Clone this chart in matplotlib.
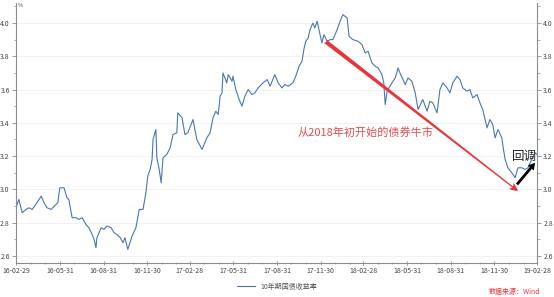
import numpy as np
import pandas as pd
import matplotlib
matplotlib.use('Agg')
import matplotlib.pyplot as plt
import matplotlib.dates as mdates

plt.rcParams['font.family'] = ['Noto Sans CJK SC', 'DejaVu Sans']

# 10年期国债收益率 (%)
dates = ['2016-02-29', '2016-03-06', '2016-03-13', '2016-03-21', '2016-03-27', '2016-04-03',
         '2016-04-13', '2016-04-22', '2016-04-28', '2016-05-04', '2016-05-13', '2016-05-23',
         '2016-05-27', '2016-05-31', '2016-06-09', '2016-06-15', '2016-06-19', '2016-06-26',
         '2016-07-04', '2016-07-10', '2016-07-17', '2016-07-25', '2016-07-31', '2016-08-07',
         '2016-08-11', '2016-08-15', '2016-08-17', '2016-08-26', '2016-09-01', '2016-09-07',
         '2016-09-16', '2016-09-22', '2016-09-28', '2016-10-05', '2016-10-11', '2016-10-15',
         '2016-10-21', '2016-10-30', '2016-11-07', '2016-11-14', '2016-11-22', '2016-11-28',
         '2016-12-02', '2016-12-07', '2016-12-11', '2016-12-13', '2016-12-19', '2016-12-21',
         '2016-12-26', '2016-12-30', '2017-01-03', '2017-01-11', '2017-01-18', '2017-01-24',
         '2017-02-01', '2017-02-03', '2017-02-12', '2017-02-18', '2017-02-24', '2017-03-07',
         '2017-03-15', '2017-03-26', '2017-04-05', '2017-04-12', '2017-04-18', '2017-04-24',
         '2017-04-29', '2017-05-03', '2017-05-07', '2017-05-09', '2017-05-17', '2017-05-20',
         '2017-05-28', '2017-05-30', '2017-06-05', '2017-06-12', '2017-06-18', '2017-06-24',
         '2017-07-01', '2017-07-09', '2017-07-15', '2017-07-22', '2017-08-01', '2017-08-10',
         '2017-08-16', '2017-08-26', '2017-09-02', '2017-09-10', '2017-09-16', '2017-09-23',
         '2017-10-03', '2017-10-09', '2017-10-16', '2017-10-22', '2017-10-26', '2017-10-30',
         '2017-11-04', '2017-11-08', '2017-11-14', '2017-11-18', '2017-11-23', '2017-11-29',
         '2017-12-03', '2017-12-07', '2017-12-14', '2017-12-20', '2017-12-26', '2018-01-04',
         '2018-01-10', '2018-01-16', '2018-01-25', '2018-01-29', '2018-02-06', '2018-02-17',
         '2018-02-25', '2018-03-04', '2018-03-10', '2018-03-18', '2018-03-25', '2018-03-31',
         '2018-04-08', '2018-04-12', '2018-04-15', '2018-04-19', '2018-04-29', '2018-05-06',
         '2018-05-12', '2018-05-16', '2018-05-27', '2018-06-02', '2018-06-10', '2018-06-17',
         '2018-06-23', '2018-07-03', '2018-07-12', '2018-07-18', '2018-07-24', '2018-08-02',
         '2018-08-08', '2018-08-14', '2018-08-23', '2018-08-29', '2018-09-04', '2018-09-13',
         '2018-09-19', '2018-09-25', '2018-10-04', '2018-10-10', '2018-10-16', '2018-10-25',
         '2018-10-31', '2018-11-06', '2018-11-15', '2018-11-21', '2018-11-27', '2018-12-02',
         '2018-12-08', '2018-12-16', '2018-12-19', '2018-12-23', '2018-12-29', '2019-01-06',
         '2019-01-13', '2019-01-19', '2019-01-27', '2019-02-03', '2019-02-09', '2019-02-17',
         '2019-02-24', '2019-02-28']
yields = [2.89, 2.94, 2.86, 2.88, 2.89, 2.88,
          2.92, 2.96, 2.92, 2.89, 2.88, 2.91,
          2.92, 3.01, 3.01, 2.95, 2.94, 2.83,
          2.83, 2.82, 2.83, 2.79, 2.77, 2.73,
          2.70, 2.65, 2.71, 2.77, 2.76, 2.78,
          2.77, 2.74, 2.73, 2.71, 2.68, 2.71,
          2.64, 2.72, 2.77, 2.88, 2.88, 2.98,
          3.08, 3.12, 3.18, 3.30, 3.36, 3.19,
          3.12, 3.04, 3.19, 3.21, 3.25, 3.33,
          3.34, 3.46, 3.43, 3.33, 3.34, 3.42,
          3.30, 3.24, 3.31, 3.34, 3.43, 3.47,
          3.45, 3.56, 3.58, 3.70, 3.64, 3.69,
          3.65, 3.68, 3.60, 3.54, 3.50, 3.56,
          3.60, 3.57, 3.58, 3.61, 3.64, 3.66,
          3.62, 3.69, 3.64, 3.61, 3.63, 3.62,
          3.64, 3.68, 3.74, 3.77, 3.84, 3.89,
          3.91, 3.96, 4.00, 3.97, 4.01, 3.93,
          3.88, 3.93, 3.89, 3.90, 3.90, 3.96,
          4.01, 4.05, 4.03, 3.92, 3.90, 3.89,
          3.87, 3.82, 3.83, 3.76, 3.74, 3.73,
          3.69, 3.64, 3.51, 3.59, 3.64, 3.67,
          3.73, 3.70, 3.63, 3.67, 3.65, 3.58,
          3.48, 3.54, 3.47, 3.53, 3.52, 3.46,
          3.60, 3.64, 3.61, 3.58, 3.64, 3.68,
          3.66, 3.61, 3.59, 3.60, 3.55, 3.57,
          3.52, 3.48, 3.37, 3.42, 3.39, 3.31,
          3.36, 3.31, 3.25, 3.18, 3.13, 3.10,
          3.07, 3.13, 3.13, 3.12, 3.13, 3.18,
          3.22, 3.21]

tick_dates = ['2016-02-29', '2016-05-31', '2016-08-31', '2016-11-30', '2017-02-28',
              '2017-05-31', '2017-08-31', '2017-11-30', '2018-02-28', '2018-05-31',
              '2018-08-31', '2018-11-30', '2019-02-28']
y_ticks = [2.6, 2.8, 3.0, 3.2, 3.4, 3.6, 3.8, 4.0]

# annotation arrows: (date, value)
bull_start = ('2017-12-10', 3.89)
bull_end = ('2019-01-19', 2.99)
rebound_start = ('2019-01-17', 3.03)
rebound_end = ('2019-02-24', 3.16)

x = pd.to_datetime(dates)
ticks = pd.to_datetime(tick_dates)

fig = plt.figure(figsize=(5.54, 2.97), dpi=100)
ax = fig.add_axes([16/554, 1 - 263/297, (537 - 16)/554, 260/297])
ax.plot(x, yields, color='#4a76b0', lw=0.8, label='10年期国债收益率')

ax.set_xlim(ticks[0], ticks[-1])
ax.set_ylim(2.558, 4.12)
ax.set_xticks(ticks)
ax.set_xticklabels([t.strftime('%y-%m-%d') for t in ticks])
ax.xaxis.set_minor_locator(mdates.MonthLocator(bymonthday=-1))
ax.set_yticks(y_ticks)
ax.set_yticklabels(['%.1f' % v for v in y_ticks])
ax.yaxis.set_minor_locator(plt.MultipleLocator(0.1))
ax.grid(axis='y', color='#f0f0f0', lw=0.6)
ax.set_axisbelow(True)

ax.spines['top'].set_visible(False)
for s in ['left', 'right', 'bottom']:
    ax.spines[s].set_color('#8c8c8c')
    ax.spines[s].set_linewidth(0.8)

ax.tick_params(axis='both', which='major', labelsize=5, colors='#8c8c8c',
               labelcolor='#444444', length=3, width=0.6, pad=1.5)
ax.tick_params(axis='both', which='minor', colors='#8c8c8c', length=1.8, width=0.5)
ax.tick_params(axis='y', which='both', left=True, right=True, labelleft=True, labelright=True)
ax.tick_params(axis='x', which='both', direction='inout')

ax.text(0.004, 1.0, '%', transform=ax.transAxes, fontsize=4, color='#444444',
        ha='left', va='top')

# red bull-market arrow
ax.annotate('', xy=(pd.Timestamp(bull_end[0]), bull_end[1]),
            xytext=(pd.Timestamp(bull_start[0]), bull_start[1]),
            arrowprops=dict(arrowstyle='fancy,head_length=0.5,head_width=0.45,tail_width=0.25',
                            color='#e8343a', mutation_scale=12, shrinkA=0, shrinkB=0, lw=0))
ax.text(pd.Timestamp('2018-03-04'), 3.34, '从2018年初开始的债券牛市', color='#e05050',
        fontsize=8, ha='center', va='center')

# black rebound arrow
ax.annotate('', xy=(pd.Timestamp(rebound_end[0]), rebound_end[1]),
            xytext=(pd.Timestamp(rebound_start[0]), rebound_start[1]),
            arrowprops=dict(arrowstyle='simple,head_length=0.6,head_width=0.7,tail_width=0.25',
                            color='black', mutation_scale=8, shrinkA=0, shrinkB=0, lw=0))
ax.text(pd.Timestamp('2019-02-01'), 3.20, '回调', color='#222222', fontsize=9,
        ha='center', va='center')

fig.legend(loc='lower center', bbox_to_anchor=(0.5, 0.0), frameon=False, fontsize=5,
           handlelength=2.5, labelcolor='#555555')
fig.text(0.975, 0.005, '数据来源：Wind', color='#e8343a', fontsize=5, style='italic',
         ha='right', va='bottom')

fig.savefig('out.png', dpi=100)
